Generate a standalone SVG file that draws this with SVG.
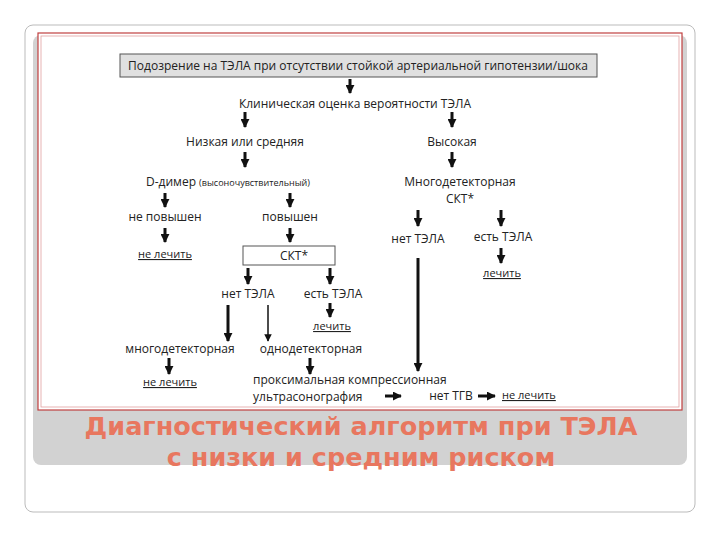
<svg xmlns="http://www.w3.org/2000/svg" width="720" height="540" viewBox="0 0 720 540">
<defs>
<marker id="ah" viewBox="0 0 10 10" refX="9" refY="5" markerWidth="3" markerHeight="3" orient="auto"><path d="M0,0L10,5L0,10z" fill="#111"/></marker>
<marker id="ah2" viewBox="0 0 10 10" refX="9" refY="5" markerWidth="5" markerHeight="5" orient="auto"><path d="M0,0L10,5L0,10z" fill="#111"/></marker>
</defs>
<style>
text{font-family:"Open Sans","Liberation Sans",sans-serif;fill:#222;font-size:12px}
.c{text-anchor:middle}
.u{text-decoration:underline;font-size:11px}
.a{stroke:#111;stroke-width:3;marker-end:url(#ah)}
.t{stroke:#111;stroke-width:1.5;marker-end:url(#ah2)}
.title{font-family:"DejaVu Sans","Liberation Sans",sans-serif;font-weight:bold;font-size:25.5px;fill:#e8775f;text-anchor:middle}
</style>
<rect width="720" height="540" fill="#fff"/>
<rect x="25" y="25" width="670" height="487" rx="8" fill="#fff" stroke="#bbb"/>
<rect x="33" y="35" width="654" height="430" rx="8" fill="#d2d2d2"/>
<rect x="38" y="33" width="644" height="377" fill="#fff" stroke="#c04040" stroke-width="1.2"/>
<rect x="41" y="36" width="638" height="371" fill="none" stroke="#e0a0a0" stroke-width="0.8"/>

<g id="n-top"><rect x="120" y="54" width="477" height="23" fill="#e0e0e0" stroke="#555"/><text class="c" x="358" y="70" font-size="11.5">Подозрение на ТЭЛА при отсутствии стойкой артериальной гипотензии/шока</text></g>
<g id="n-clin"><text class="c" x="355" y="108" font-size="13">Клиническая оценка вероятности ТЭЛА</text></g>
<g id="n-low"><text class="c" x="245" y="146">Низкая или средняя</text></g>
<g id="n-high"><text class="c" x="452" y="146">Высокая</text></g>
<g id="n-dd"><text x="146" y="186" font-size="13">D-димер <tspan font-size="9">(высоночувствительный)</tspan></text></g>
<g id="n-mdct"><text class="c" x="460" y="186" font-size="12.5">Многодетекторная</text><text class="c" x="460" y="203">СКТ*</text></g>
<g id="n-np"><text class="c" x="165" y="221">не повышен</text></g>
<g id="n-p"><text class="c" x="290" y="221">повышен</text></g>
<g id="n-nl1"><text class="c u" x="165" y="258">не лечить</text></g>
<g id="n-ckt"><rect x="243" y="246" width="92" height="19" fill="#fff" stroke="#555"/><text class="c" x="294" y="260">СКТ*</text></g>
<g id="n-rno"><text class="c" x="418" y="243">нет ТЭЛА</text></g>
<g id="n-ryes"><text class="c" x="503" y="241">есть ТЭЛА</text></g>
<g id="n-rtreat"><text class="c u" x="502" y="277">лечить</text></g>
<g id="n-cno"><text class="c" x="248" y="298">нет ТЭЛА</text></g>
<g id="n-cyes"><text class="c" x="333" y="298">есть ТЭЛА</text></g>
<g id="n-ctreat"><text class="c u" x="332" y="330">лечить</text></g>
<g id="n-multi"><text class="c" x="180" y="353">многодетекторная</text></g>
<g id="n-single"><text class="c" x="311" y="353">однодетекторная</text></g>
<g id="n-nl2"><text class="c u" x="170" y="386">не лечить</text></g>
<g id="n-us"><text x="253" y="384">проксимальная компрессионная</text><text x="253" y="401">ультрасонография</text></g>
<g id="n-tgv"><text class="c" x="451" y="400">нет ТГВ</text></g>
<g id="n-nl3"><text class="u" x="502" y="399">не лечить</text></g>

<g id="connectors">
<line class="a" x1="350" y1="79" x2="350" y2="93"/>
<line class="a" x1="245" y1="112" x2="245" y2="127"/>
<line class="a" x1="452" y1="112" x2="452" y2="127"/>
<line class="a" x1="245" y1="152" x2="245" y2="167"/>
<line class="a" x1="452" y1="152" x2="452" y2="167"/>
<line class="a" x1="165" y1="193" x2="165" y2="207"/>
<line class="a" x1="290" y1="193" x2="290" y2="207"/>
<line class="a" x1="165" y1="228" x2="165" y2="242"/>
<line class="a" x1="290" y1="228" x2="290" y2="242"/>
<line class="a" x1="418" y1="210" x2="418" y2="226"/>
<line class="a" x1="501" y1="210" x2="501" y2="226"/>
<line class="a" x1="501" y1="248" x2="501" y2="263"/>
<line class="a" x1="248" y1="268" x2="248" y2="284"/>
<line class="a" x1="330" y1="268" x2="330" y2="284"/>
<line class="a" x1="330" y1="303" x2="330" y2="317"/>
<line class="a" x1="228" y1="305" x2="228" y2="341"/>
<line class="t" x1="268" y1="305" x2="268" y2="341"/>
<line class="a" x1="169" y1="358" x2="169" y2="374"/>
<line class="a" x1="310" y1="358" x2="310" y2="374"/>
<line class="a" x1="418" y1="258" x2="418" y2="371"/>
<line class="a" x1="385" y1="396" x2="401" y2="396"/>
<line class="a" x1="478" y1="396" x2="495" y2="396"/>
</g>

<text class="title" x="361" y="435">Диагностический алгоритм при ТЭЛА</text>
<text class="title" x="361" y="466">с низки и средним риском</text>
</svg>
